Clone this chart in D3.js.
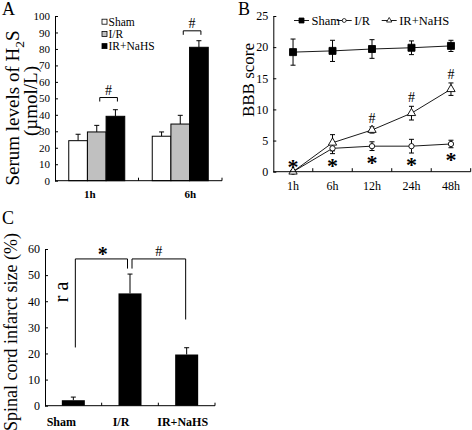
<!DOCTYPE html>
<html><head><meta charset="utf-8">
<script src="https://cdn.jsdelivr.net/npm/d3@7"></script>
<style>
body{margin:0;background:#fff}
svg{display:block}
text{font-family:"Liberation Serif","Times New Roman",serif;fill:#000}
</style>
</head><body>
<svg id="fig" width="472" height="430"></svg>
<script>
// ---------- Panel A data ----------
const timesA = ["1h", "6h"];
const seriesA = ["Sham", "I/R", "IR+NaHS"];
const shamA = [24.3, 27.0];
const irA = [29.6, 34.4];
const nahsA = [39.1, 81.0];
const shamErrA = [3.9, 2.6];
const irErrA = [4.0, 5.3];
const nahsErrA = [4.0, 4.0];
const yTicksA = [0, 10, 20, 30, 40, 50, 60, 70, 80, 90, 100];
const hashBracketA = [50.5, 91]; // value level of "#" brackets

// ---------- Panel B data ----------
const timesB = ["1h", "6h", "12h", "24h", "48h"];
const seriesB = ["Sham", "I/R", "IR+NaHS"];
const shamB = [19.2, 19.4, 19.7, 19.9, 20.2];
const shamErrB = [2.1, 1.7, 1.5, 1.1, 0.9];
const irB = [0, 3.75, 4.1, 4.1, 4.45];
const irErrB = [0, 0.85, 0.7, 1.1, 0.6];
const nahsB = [0, 4.65, 6.7, 9.4, 13.25];
const nahsErrB = [0, 1.3, 0.5, 1.1, 1.0];
const yTicksB = [0, 5, 10, 15, 20, 25];
const starB = [true, true, true, true, true];
const hashB = [false, false, true, true, true];

// ---------- Panel C data ----------
const groupsC = ["Sham", "I/R", "IR+NaHS"];
const infarctC = [2.1, 43.0, 19.6];
const infarctErrC = [1.2, 7.4, 2.6];
const yTicksC = [0, 10, 20, 30, 40, 50, 60];
const bracketC = 60 - 3.8; // bracket level (value units)

const svg = d3.select("#fig");
svg.append("rect").attr("width", 472).attr("height", 430).attr("fill", "#fff");

function yAxisInward(g, scale, ticks, size) {
  g.call(d3.axisLeft(scale).tickValues(ticks).tickSizeInner(-3).tickSizeOuter(0).tickPadding(5))
   .call(s => s.selectAll("text").attr("font-size", size).style("font-family", '"Liberation Serif",serif'))
   .call(s => s.selectAll("path,line").attr("stroke", "#000"))
   .attr("font-family", null);
}
function star(g, x, cy, size) {
  g.append("text").attr("x", x).attr("y", cy + size * 0.5).attr("text-anchor", "middle")
    .attr("font-size", size).attr("font-weight", "bold").text("*");
}

// =================== PANEL A ===================
{
  const yA = d3.scaleLinear([0, 100], [180.7, 16]);
  const xA = d3.scaleBand(timesA, [55, 222]);
  const gw = 56;
  const x1 = d3.scaleBand(seriesA, [0, gw]);
  const fills = {"Sham": "#fff", "I/R": "#c0c0c0", "IR+NaHS": "#000"};
  const vals = {"Sham": shamA, "I/R": irA, "IR+NaHS": nahsA};
  const errs = {"Sham": shamErrA, "I/R": irErrA, "IR+NaHS": nahsErrA};
  const g = svg.append("g");
  const bx = (t, s) => xA(t) + (xA.bandwidth() - gw) / 2 + x1(s);

  timesA.forEach((t, i) => seriesA.forEach(s => {
    const cx = bx(t, s) + x1.bandwidth() / 2;
    const top = yA(vals[s][i] + errs[s][i]);
    g.append("line").attr("x1", cx).attr("x2", cx).attr("y1", yA(vals[s][i])).attr("y2", top).attr("stroke", "#000");
    g.append("line").attr("x1", cx - 2.5).attr("x2", cx + 2.5).attr("y1", top).attr("y2", top).attr("stroke", "#000");
  }));
  timesA.forEach((t, i) => seriesA.forEach(s => {
    g.append("rect").attr("x", bx(t, s)).attr("y", yA(vals[s][i]))
      .attr("width", x1.bandwidth()).attr("height", yA(0) - yA(vals[s][i]))
      .attr("fill", fills[s]).attr("stroke", "#000").attr("stroke-width", 1);
  }));
  yAxisInward(g.append("g").attr("transform", "translate(55,0)"), yA, yTicksA, 11);
  g.append("line").attr("x1", 55).attr("x2", 222).attr("y1", yA(0)).attr("y2", yA(0)).attr("stroke", "#000");
  timesA.forEach(t => {
    const xe = xA(t) + xA.bandwidth();
    g.append("line").attr("x1", xe).attr("x2", xe).attr("y1", yA(0)).attr("y2", yA(0) - 3).attr("stroke", "#000");
  });
  const nudgeA = [-7, 10];
  timesA.forEach((t, i) => {
    g.append("text").attr("x", xA(t) + xA.bandwidth() / 2 + nudgeA[i]).attr("y", 198)
      .attr("text-anchor", "middle").attr("font-size", 11).attr("font-weight", "bold").text(t);
  });
  timesA.forEach((t, i) => {
    const xa = bx(t, "I/R") + x1.bandwidth() / 2 + 3;
    const xb = bx(t, "IR+NaHS") + x1.bandwidth() / 2 + 2;
    const yb = yA(hashBracketA[i]);
    g.append("path").attr("d", `M${xa},${yb + 4}V${yb}H${xb}V${yb + 4}`).attr("fill", "none").attr("stroke", "#000");
    g.append("text").attr("x", (xa + xb) / 2).attr("y", yb - 3).attr("text-anchor", "middle").attr("font-size", 14).text("#");
  });
  seriesA.forEach((s, i) => {
    const ly = 21.7 + i * 12.2;
    g.append("rect").attr("x", 102).attr("y", ly - 2.5).attr("width", 5).attr("height", 5)
      .attr("fill", fills[s]).attr("stroke", "#000").attr("stroke-width", 0.8);
    g.append("text").attr("x", 108.5).attr("y", ly + 4).attr("font-size", 11.5).text(s);
  });
  const t1 = g.append("text").attr("transform", "translate(19,108) rotate(-90)").attr("text-anchor", "middle").attr("font-size", 19);
  t1.append("tspan").text("Serum levels of H");
  t1.append("tspan").attr("font-size", 13.5).attr("dy", 4.5).text("2");
  t1.append("tspan").attr("dy", -4.5).text("S");
  g.append("text").attr("transform", "translate(37,101) rotate(-90)").attr("text-anchor", "middle").attr("font-size", 19).text("(µmol/L)");
  g.append("text").attr("x", 2).attr("y", 15).attr("font-size", 18).text("A");
}

// =================== PANEL B ===================
{
  const yB = d3.scaleLinear([0, 25], [171.7, 16]);
  const xB = d3.scaleBand(timesB, [273.3, 470.7]);
  const cx = t => xB(t) + xB.bandwidth() / 2;
  const g = svg.append("g");
  const data = [
    {name: "Sham", v: shamB, e: shamErrB},
    {name: "I/R", v: irB, e: irErrB},
    {name: "IR+NaHS", v: nahsB, e: nahsErrB}
  ];
  const line = d3.line().x((d, i) => cx(timesB[i])).y(d => yB(d));
  data.forEach(s => g.append("path").attr("d", line(s.v)).attr("fill", "none").attr("stroke", "#000").attr("stroke-width", 0.9));
  data.forEach(s => timesB.forEach((t, i) => {
    if (!s.e[i]) return;
    const x = cx(t), y0 = yB(s.v[i] - s.e[i]), y1 = yB(s.v[i] + s.e[i]);
    g.append("line").attr("x1", x).attr("x2", x).attr("y1", y0).attr("y2", y1).attr("stroke", "#000");
    [y0, y1].forEach(yy => g.append("line").attr("x1", x - 2.5).attr("x2", x + 2.5).attr("y1", yy).attr("y2", yy).attr("stroke", "#000"));
  }));
  const sym = {
    "Sham": d3.symbol(d3.symbolSquare, 49),
    "I/R": d3.symbol(d3.symbolCircle, 22),
    "IR+NaHS": d3.symbol(d3.symbolTriangle, 30)
  };
  const symFill = {"Sham": "#000", "I/R": "#fff", "IR+NaHS": "#fff"};
  data.forEach(s => timesB.forEach((t, i) => {
    g.append("path").attr("d", sym[s.name]()).attr("transform", `translate(${cx(t)},${yB(s.v[i])})`)
      .attr("fill", symFill[s.name]).attr("stroke", "#000").attr("stroke-width", 0.9);
  }));
  yAxisInward(g.append("g").attr("transform", "translate(273.3,0)"), yB, yTicksB, 12);
  g.append("line").attr("x1", 273.3).attr("x2", 470.7).attr("y1", yB(0)).attr("y2", yB(0)).attr("stroke", "#000");
  timesB.forEach(t => {
    const xe = xB(t) + xB.bandwidth();
    g.append("line").attr("x1", xe).attr("x2", xe).attr("y1", yB(0)).attr("y2", yB(0) - 3.5).attr("stroke", "#000");
    g.append("text").attr("x", cx(t)).attr("y", 190).attr("text-anchor", "middle").attr("font-size", 12).text(t);
  });
  timesB.forEach((t, i) => {
    if (starB[i]) {
      const cy = i === 0 ? yB(irB[i]) - 8.5 : yB(irB[i] - irErrB[i]) + 8;
      star(g, cx(t), cy, 22);
    }
    if (hashB[i]) {
      g.append("text").attr("x", cx(t)).attr("y", yB(nahsB[i] + nahsErrB[i]) - 4).attr("text-anchor", "middle")
        .attr("font-size", 14).text("#");
    }
  });
  const leg = [{n: "Sham", x: 294}, {n: "I/R", x: 336.7}, {n: "IR+NaHS", x: 381.7}];
  leg.forEach(l => {
    g.append("line").attr("x1", l.x).attr("x2", l.x + 15).attr("y1", 20.5).attr("y2", 20.5).attr("stroke", "#000").attr("stroke-width", 0.9);
    g.append("path").attr("d", d3.symbol(l.n === "Sham" ? d3.symbolSquare : l.n === "I/R" ? d3.symbolCircle : d3.symbolTriangle, l.n === "Sham" ? 25 : 12)())
      .attr("transform", `translate(${l.x + 7.5},20.5)`).attr("fill", symFill[l.n]).attr("stroke", "#000").attr("stroke-width", 0.8);
    g.append("text").attr("x", l.x + 17.5).attr("y", 24.5).attr("font-size", 12.5).text(l.n);
  });
  g.append("text").attr("transform", "translate(254,80) rotate(-90)").attr("text-anchor", "middle").attr("font-size", 17).text("BBB score");
  g.append("text").attr("x", 238).attr("y", 15).attr("font-size", 18).text("B");
}

// =================== PANEL C ===================
{
  const yC = d3.scaleLinear([0, 60], [405.7, 249]);
  const xC = d3.scaleBand(groupsC, [45, 215]);
  const bw = 23;
  const cx = k => xC(k) + xC.bandwidth() / 2;
  const g = svg.append("g");
  groupsC.forEach((k, i) => {
    const top = yC(infarctC[i] + infarctErrC[i]);
    g.append("line").attr("x1", cx(k)).attr("x2", cx(k)).attr("y1", yC(infarctC[i])).attr("y2", top).attr("stroke", "#000");
    g.append("line").attr("x1", cx(k) - 2.5).attr("x2", cx(k) + 2.5).attr("y1", top).attr("y2", top).attr("stroke", "#000");
    g.append("rect").attr("x", cx(k) - bw / 2).attr("y", yC(infarctC[i])).attr("width", bw)
      .attr("height", yC(0) - yC(infarctC[i])).attr("fill", "#000");
  });
  yAxisInward(g.append("g").attr("transform", "translate(45,0)"), yC, yTicksC, 12);
  g.append("line").attr("x1", 45).attr("x2", 215).attr("y1", yC(0)).attr("y2", yC(0)).attr("stroke", "#000");
  const nudgeC = [-12, -9, -4];
  groupsC.forEach((k, i) => {
    const xe = xC(k) + xC.bandwidth();
    g.append("line").attr("x1", xe).attr("x2", xe).attr("y1", yC(0)).attr("y2", yC(0) - 3).attr("stroke", "#000");
    g.append("text").attr("x", cx(k) + nudgeC[i]).attr("y", 426).attr("text-anchor", "middle")
      .attr("font-size", 12).attr("font-weight", "bold").text(k);
  });
  const yb = yC(bracketC);
  const xs = cx("Sham") + 2, xi = cx("I/R"), xn = cx("IR+NaHS") - 1;
  g.append("path").attr("d", `M${xs},${yC(22.3)}V${yb}H${xi - 2.5}V${yC(52.5)}`).attr("fill", "none").attr("stroke", "#000");
  g.append("path").attr("d", `M${xi + 2},${yC(52.5)}V${yb}H${xn}V${yC(33)}`).attr("fill", "none").attr("stroke", "#000");
  star(g, (xs + xi) / 2, yb - 8, 20);
  g.append("text").attr("x", (xi + xn) / 2 + 1).attr("y", yb - 2.5).attr("text-anchor", "middle").attr("font-size", 14).text("#");
  g.append("text").attr("transform", "translate(68,292) rotate(-90)").attr("text-anchor", "middle").attr("font-size", 20).text("r a");
  g.append("text").attr("transform", "translate(17,332) rotate(-90)").attr("text-anchor", "middle").attr("font-size", 18).text("Spinal cord infarct size (%)");
  g.append("text").attr("x", 2).attr("y", 224).attr("font-size", 18).text("C");
}
</script>
</body></html>
